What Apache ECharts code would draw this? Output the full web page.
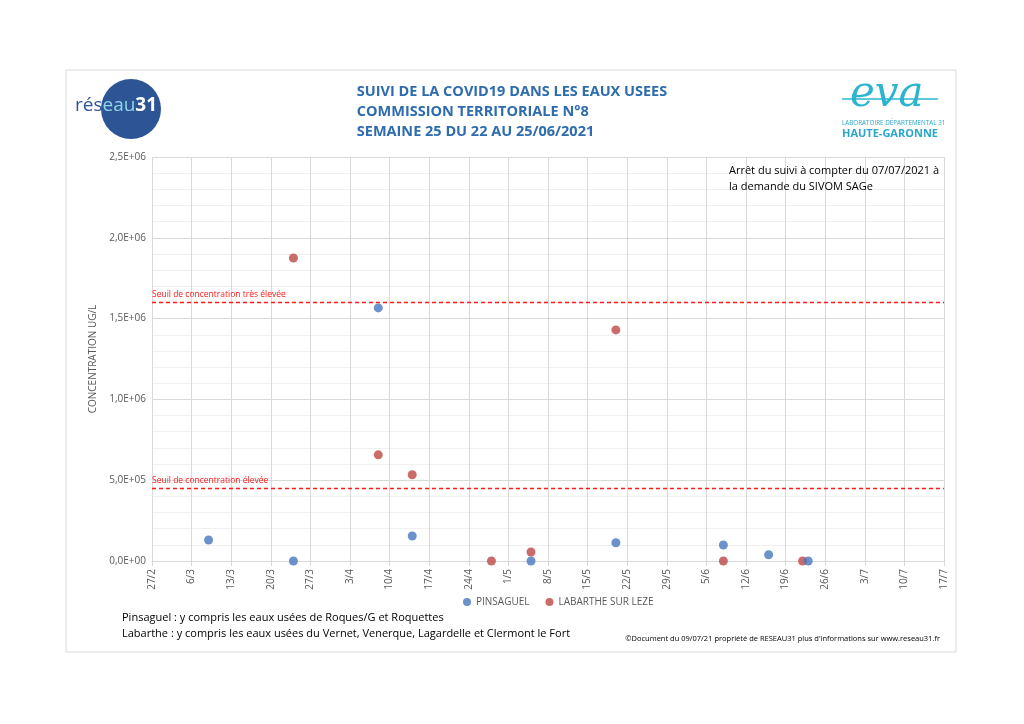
<!DOCTYPE html>
<html>
<head>
<meta charset="utf-8">
<script src="https://cdn.jsdelivr.net/npm/echarts@6/dist/echarts.min.js"></script>
<style>
  html, body { margin: 0; padding: 0; background: #fff; }
  #chart { width: 1024px; height: 724px; }
</style>
</head>
<body>
<div id="chart"></div>
<script>
// ---- données ----
var startDate = '2021-02-27';
var tickCount = 20; // semaines 27/2 -> 17/7

var pinsaguelDates = ['2021-03-09', '2021-03-24', '2021-04-08', '2021-04-14', '2021-05-05', '2021-05-20', '2021-06-08', '2021-06-16', '2021-06-23'];
var pinsaguelValues = [130000, 0, 1566000, 155000, 0, 113000, 99000, 39000, 0];

var labartheDates = ['2021-03-24', '2021-04-08', '2021-04-14', '2021-04-28', '2021-05-05', '2021-05-20', '2021-06-08', '2021-06-22'];
var labartheValues = [1875000, 657000, 534000, 0, 56000, 1430000, 0, 0];

var seuilValues = [1600000, 452000];
var seuilLabels = ['Seuil de concentration très élevée', 'Seuil de concentration élevée'];

var seriesNames = ['PINSAGUEL', 'LABARTHE SUR LEZE'];
var titleLines = ['SUIVI DE LA COVID19 DANS LES EAUX USEES', 'COMMISSION TERRITORIALE N°8', 'SEMAINE 25 DU 22 AU 25/06/2021'];

// ---- utilitaires ----
var DAY = 24 * 3600 * 1000;
var t0 = Date.parse(startDate + 'T00:00:00Z');
function dayIndex(d) {
    return Math.round((Date.parse(d + 'T00:00:00Z') - t0) / DAY);
}
function dayLabel(v) {
    var d = new Date(t0 + v * DAY);
    return d.getUTCDate() + '/' + (d.getUTCMonth() + 1);
}
function sciLabel(v) {
    if (v === 0) return '0,0E+00';
    var e = Math.floor(Math.log10(v));
    var m = (v / Math.pow(10, e)).toFixed(1).replace('.', ',');
    return m + 'E+' + (e < 10 ? '0' + e : e);
}
function toPoints(dates, values) {
    return dates.map(function (d, i) { return [dayIndex(d), values[i]]; });
}

var chart = echarts.init(document.getElementById('chart'));
var font = '"Open Sans", "Noto Sans", sans-serif';

var option = {
    backgroundColor: '#fff',
    animation: false,
    textStyle: { fontFamily: font },
    graphic: [
        // cadre
        { type: 'rect', z: -1, shape: { x: 66, y: 70, width: 890, height: 582 }, style: { fill: 'none', stroke: '#d9d9d9', lineWidth: 1 } },
        // titre
        { type: 'text', z: 100, left: 'center', top: 82, style: { text: titleLines.join('\n'), fill: '#2e6cae', font: 'bold 14.5px ' + font, lineHeight: 20, align: 'center' } },
        // logo réseau31
        { type: 'circle', z: 100, shape: { cx: 131, cy: 109, r: 30 }, style: { fill: '#2d5596' } },
        { type: 'text', z: 101, x: 75, y: 96, style: { text: '{a|rés}{b|eau}{c|31}', rich: {
            a: { fill: '#2d5596', font: '19px "Open Sans", sans-serif' },
            b: { fill: '#8fd6e6', font: '19px "Open Sans", sans-serif' },
            c: { fill: '#ffffff', font: 'bold 19px "Open Sans", sans-serif' }
        } } },
        // logo eva
        { type: 'text', z: 100, x: 850, y: 74, style: { text: 'eva', fill: '#2bb5d0', font: 'italic 42px "DejaVu Serif", serif' } },
        { type: 'line', z: 100, shape: { x1: 842, y1: 99, x2: 938, y2: 99 }, style: { stroke: '#2bb5d0', lineWidth: 1.5 } },
        { type: 'text', z: 100, x: 842, y: 120, style: { text: 'LABORATOIRE DÉPARTEMENTAL 31', fill: '#2aa6c8', font: '6.3px "Liberation Sans Narrow", "Open Sans", sans-serif' } },
        { type: 'text', z: 100, x: 842, y: 128, style: { text: 'HAUTE-GARONNE', fill: '#2aa6c8', font: 'bold 11px "Open Sans", sans-serif' } },
        // annotation
        { type: 'text', z: 100, x: 729, y: 163, style: { text: 'Arrêt du suivi à compter du 07/07/2021 à\nla demande du SIVOM SAGe', fill: '#000', font: '11px ' + font, lineHeight: 16 } },
        // notes
        { type: 'text', z: 100, x: 122, y: 610, style: { text: 'Pinsaguel : y compris les eaux usées de Roques/G et Roquettes\nLabarthe : y compris les eaux usées du Vernet, Venerque, Lagardelle et Clermont le Fort', fill: '#000', font: '11px ' + font, lineHeight: 16 } },
        { type: 'text', z: 100, x: 940, y: 635, style: { text: '©Document du 09/07/21 propriété de RESEAU31 plus d\'informations sur www.reseau31.fr', fill: '#000', font: '7.5px ' + font, align: 'right' } }
    ],
    legend: {
        bottom: 112, left: 458,
        itemWidth: 8, itemHeight: 8, itemGap: 16,
        icon: 'circle',
        textStyle: { color: '#595959', fontSize: 10, fontFamily: font },
        data: seriesNames
    },
    grid: { left: 152, right: 80, top: 157, bottom: 163 },
    xAxis: {
        type: 'value',
        min: 0, max: tickCount * 7, interval: 7,
        axisLine: { show: true, lineStyle: { color: '#d9d9d9' } },
        axisTick: { show: true, length: 5, lineStyle: { color: '#d9d9d9' } },
        axisLabel: { rotate: 90, color: '#595959', fontSize: 10, margin: 8, formatter: dayLabel },
        splitLine: { show: true, lineStyle: { color: '#d9d9d9' } }
    },
    yAxis: {
        type: 'value',
        min: 0, max: 2500000, interval: 500000,
        name: 'CONCENTRATION UG/L', nameLocation: 'middle', nameGap: 50, nameRotate: 90,
        nameTextStyle: { color: '#595959', fontSize: 10 },
        axisLine: { show: false },
        axisTick: { show: false },
        axisLabel: { color: '#595959', fontSize: 10, margin: 6, formatter: sciLabel },
        splitLine: { show: true, lineStyle: { color: '#d9d9d9' } },
        minorTick: { show: false, splitNumber: 5 },
        minorSplitLine: { show: true, lineStyle: { color: '#f0f0f0' } }
    },
    series: [
        {
            name: seriesNames[0], type: 'scatter', symbolSize: 9, clip: false,
            itemStyle: { color: '#4677bd' },
            data: toPoints(pinsaguelDates, pinsaguelValues),
            markLine: {
                silent: true, symbol: 'none', animation: false,
                lineStyle: { color: '#ff1a1a', type: [4, 3], width: 1.3 },
                label: { show: true, position: 'insideStartTop', color: '#ff1a1a', fontSize: 8.5, distance: [0, 3] },
                data: seuilValues.map(function (v, i) { return { yAxis: v, label: { formatter: seuilLabels[i] } }; })
            },
            z: 3
        },
        {
            name: seriesNames[1], type: 'scatter', symbolSize: 9, clip: false,
            itemStyle: { color: '#bd4744' },
            data: toPoints(labartheDates, labartheValues),
            z: 2
        }
    ]
};
chart.setOption(option);
</script>
</body>
</html>
